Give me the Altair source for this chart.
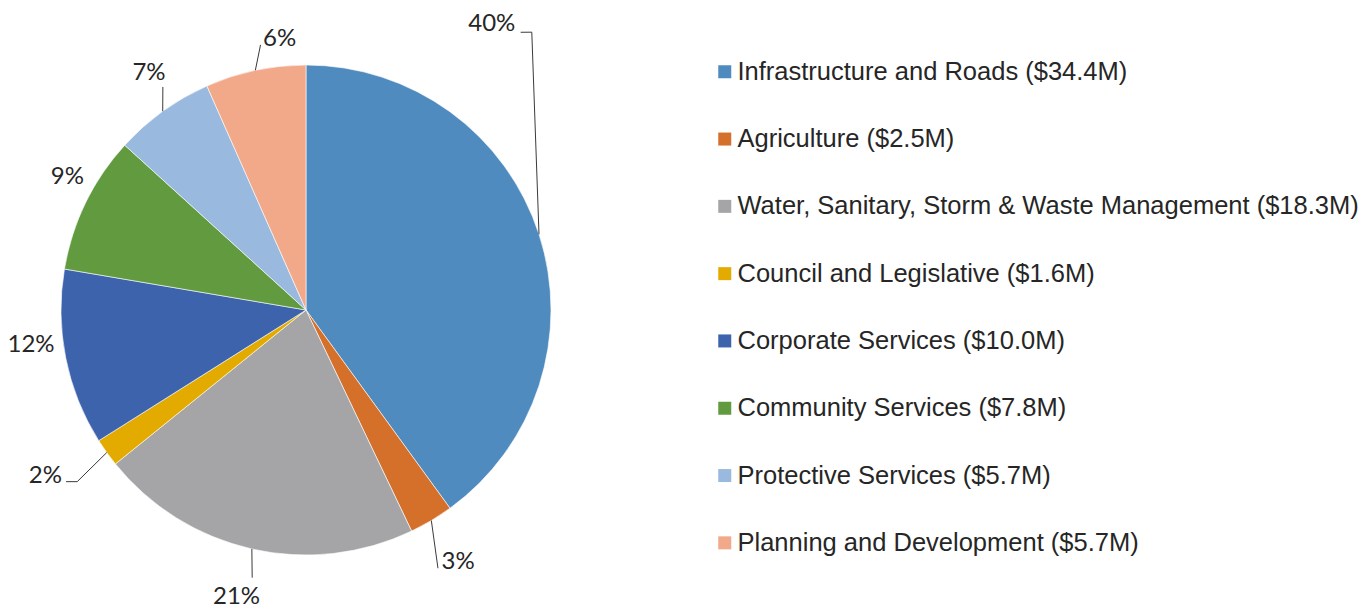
import math
import altair as alt
import pandas as pd

# ---------------- data ----------------
categories = [
    "Infrastructure and Roads",
    "Agriculture",
    "Water, Sanitary, Storm & Waste Management",
    "Council and Legislative",
    "Corporate Services",
    "Community Services",
    "Protective Services",
    "Planning and Development",
]
amounts_m = [34.4, 2.5, 18.3, 1.6, 10.0, 7.8, 5.7, 5.7]
pct_labels = ["40%", "3%", "21%", "2%", "12%", "9%", "7%", "6%"]

# ---------------- style / layout ----------------
colors = ["#4F8BBF", "#D5702B", "#A5A5A7", "#E3AB00",
          "#3D63AD", "#629B3F", "#99B9DF", "#F1A98A"]
CX, CY, R = 298, 302, 245          # pie centre / radius inside the plot area
W, H = 1356, 601
LABEL_FS = 24
# label placement relative to slice mid-angle: (angle shift deg, radius px)
label_layout = {
    "Infrastructure and Roads": (-39.1, 342),
    "Agriculture": (-0.5, 293),
    "Water, Sanitary, Storm & Waste Management": (0.9, 294),
    "Council and Legislative": (3.4, 308),
    "Corporate Services": (4.4, 277),
    "Community Services": (3.5, 274),
    "Protective Services": (2.5, 286),
    "Planning and Development": (6.4, 274),
}
# leader line bends after the slice edge: list of (angle shift deg, radius px)
leader_layout = {
    "Infrastructure and Roads": [(-32.9, 358), (-34.3, 351)],
    "Agriculture": [(3.7, 290)],
    "Water, Sanitary, Storm & Waste Management": [(-1.4, 273)],
    "Council and Legislative": [(-1.3, 286), (0.0, 295)],
    "Protective Services": [(3.1, 265)],
    "Planning and Development": [(2.2, 269)],
}

# ---------------- derived tables ----------------
total = sum(amounts_m)
legend_labels = [f"{c} (${v:.1f}M)" for c, v in zip(categories, amounts_m)]
starts, ends, mids = [], [], []
acc = 0.0
for v in amounts_m:
    starts.append(acc)
    ends.append(acc + v)
    mids.append((acc + v / 2) / total * 360.0)
    acc += v

pie_df = pd.DataFrame({
    "cat": legend_labels, "start": starts, "end": ends, "order": range(len(categories)),
})


def polar(angle_deg, r):
    a = math.radians(angle_deg)
    return CX + r * math.sin(a), CY - r * math.cos(a)


lab_rows = []
for c, p, m in zip(categories, pct_labels, mids):
    sh, r = label_layout[c]
    x, y = polar(m + sh, r)
    lab_rows.append({"px": x, "py": y, "txt": p})
lab_df = pd.DataFrame(lab_rows)

lead_rows = []
for i, (c, m) in enumerate(zip(categories, mids)):
    if c not in leader_layout:
        continue
    pts = [(0.0, R)] + leader_layout[c]
    for k, (sh, r) in enumerate(pts):
        x, y = polar(m + sh, r)
        lead_rows.append({"id": i, "k": k, "px": x, "py": y})
lead_df = pd.DataFrame(lead_rows)

# ---------------- chart ----------------
arcs = alt.Chart(pie_df).mark_arc(stroke="#ffffff", strokeWidth=0.6, outerRadius=R).encode(
    theta=alt.Theta("start:Q", stack=None,
                    scale=alt.Scale(domain=[0, total], range=[0, 2 * math.pi])),
    theta2="end:Q",
    x=alt.value(CX),
    y=alt.value(CY),
    color=alt.Color(
        "cat:N",
        scale=alt.Scale(domain=legend_labels, range=colors),
        sort=legend_labels,
        legend=alt.Legend(
            title=None, orient="none", legendX=704, legendY=51,
            symbolType="square", symbolSize=169, symbolStrokeWidth=0,
            labelFont="Liberation Sans", labelFontSize=25.5, labelColor="#262626",
            labelOffset=0, rowPadding=40.3, labelLimit=2000, padding=0,
        ),
    ),
    order="order:Q",
)

leaders = alt.Chart(lead_df).mark_line(color="#3a3a3a", strokeWidth=1).encode(
    x=alt.X("px:Q", scale=None, axis=None),
    y=alt.Y("py:Q", scale=None, axis=None),
    detail="id:N",
    order="k:Q",
)

labels = alt.Chart(lab_df).mark_text(
    font="Lato", fontSize=LABEL_FS, color="#262626", align="center",
    baseline="alphabetic", dy=0.36 * LABEL_FS,
).encode(
    x=alt.X("px:Q", scale=None, axis=None),
    y=alt.Y("py:Q", scale=None, axis=None),
    text="txt:N",
)

chart = alt.layer(arcs, leaders, labels).properties(
    width=W, height=H, autosize=alt.AutoSizeParams(type="none"), padding=0
).configure_view(stroke=None)

chart.save("out.html", embed_options={"renderer": "svg", "actions": False})
